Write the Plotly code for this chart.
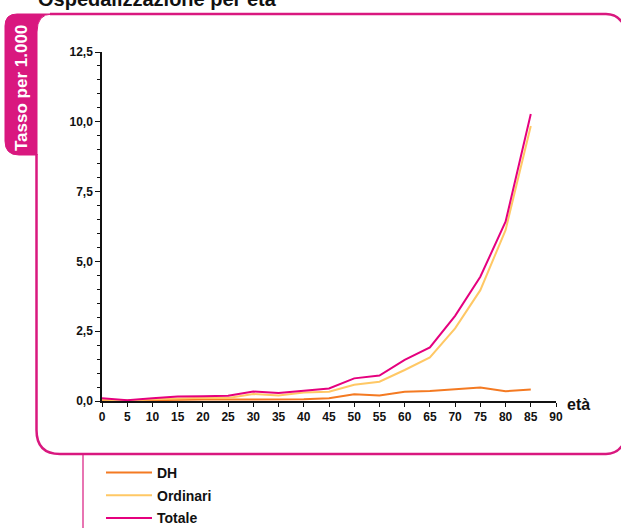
import plotly.graph_objects as go

# ---- data ----
eta = [0, 5, 10, 15, 20, 25, 30, 35, 40, 45, 50, 55, 60, 65, 70, 75, 80, 85]
dh = [0.03, 0.01, 0.03, 0.05, 0.05, 0.05, 0.05, 0.06, 0.06, 0.10, 0.24, 0.20, 0.33, 0.36, 0.43, 0.48, 0.35, 0.41]
ordinari = [0.05, 0.02, 0.06, 0.10, 0.12, 0.11, 0.25, 0.20, 0.30, 0.33, 0.58, 0.69, 1.11, 1.56, 2.60, 3.97, 6.12, 9.85]
totale = [0.10, 0.03, 0.10, 0.16, 0.17, 0.19, 0.34, 0.29, 0.37, 0.45, 0.81, 0.91, 1.47, 1.92, 3.05, 4.45, 6.42, 10.28]
series_names = ["DH", "Ordinari", "Totale"]
y_tickvals = [0, 2.5, 5, 7.5, 10, 12.5]
y_ticktext = ["0,0", "2,5", "5,0", "7,5", "10,0", "12,5"]
x_tickvals = list(range(0, 95, 5))
x_ticktext = [str(v) for v in x_tickvals]

W, H = 621, 528
L, R, T, B = 102, 556, 52, 401  # plot area pixel box
MAG = "#d9187f"
COLS = ["#f47a22", "#ffc865", "#e5007e"]

def px(x):
    return (x - L) / (R - L)

def py(y):
    return (B - y) / (B - T)

def path(cmds):
    out = []
    for c in cmds:
        if isinstance(c, str):
            out.append(c)
        else:
            out.append(f"{px(c[0]):.5f},{py(c[1]):.5f}")
    return " ".join(out)

fig = go.Figure()
for name, vals, col in zip(series_names, [dh, ordinari, totale], COLS):
    fig.add_trace(go.Scatter(x=eta, y=vals, mode="lines", name=name,
                             line=dict(color=col, width=2), legendgroup=name))

tickfont = dict(family="Liberation Sans, Arial", size=12, color="#111", weight="bold")

fig.update_layout(
    width=W, height=H,
    margin=dict(l=L, r=W - R, t=T, b=H - B, autoexpand=False),
    paper_bgcolor="white", plot_bgcolor="white",
    showlegend=True,
    legend=dict(x=px(101), y=py(457), xanchor="left", yanchor="top",
                font=dict(family="Liberation Sans, Arial", size=14, color="#111", weight="bold"),
                tracegroupgap=1.5, traceorder="grouped", bgcolor="rgba(0,0,0,0)",
                itemwidth=46),
    xaxis=dict(range=[0, 90], tickvals=x_tickvals, ticktext=x_ticktext,
               showgrid=False, zeroline=False, showline=True, linecolor="#111", linewidth=1.5,
               ticks="outside", ticklen=4, tickcolor="#111", tickwidth=1.2,
               tickfont=tickfont),
    yaxis=dict(range=[0, 12.5], tickvals=y_tickvals, ticktext=y_ticktext,
               showgrid=False, zeroline=False, showline=True, linecolor="#111", linewidth=1.5,
               ticks="outside", ticklen=5, tickcolor="#111", tickwidth=1.2,
               minor=dict(dtick=0.5, ticks="outside", ticklen=3, tickcolor="#111", tickwidth=1, showgrid=False),
               tickfont=tickfont),
    yaxis2=dict(range=[0, 12.5], overlaying="y", side="left", tickvals=y_tickvals,
                showticklabels=False, showgrid=False, zeroline=False, showline=False,
                ticks="inside", ticklen=5, tickcolor="#111", tickwidth=1.2,
                minor=dict(dtick=0.5, ticks="inside", ticklen=3, tickcolor="#111", tickwidth=1, showgrid=False)),
)

shapes = []
# magenta tab
shapes.append(dict(type="path", xref="paper", yref="paper", layer="above",
                   path=path(["M", (52, 14), "L", (17, 14), "Q", (5, 14), (5, 26), "L", (5, 141),
                              "Q", (5, 155), (19, 155), "L", (37, 155), "L", (37, 32),
                              "Q", (37, 14), (52, 14), "Z"]),
                   fillcolor=MAG, line=dict(color=MAG, width=1)))
# top line
shapes.append(dict(type="path", xref="paper", yref="paper",
                   path=path(["M", (50, 14), "L", (606, 14), "Q", (616, 14), (622, 22)]),
                   line=dict(color=MAG, width=2.5)))
# left + bottom line
shapes.append(dict(type="path", xref="paper", yref="paper",
                   path=path(["M", (36.5, 154), "L", (36.5, 430), "Q", (36.5, 454), (60, 454),
                              "L", (606, 454), "Q", (616, 454), (622, 446)]),
                   line=dict(color=MAG, width=2.5)))
# legend box vertical line
shapes.append(dict(type="line", xref="paper", yref="paper",
                   x0=px(83), x1=px(83), y0=py(454), y1=py(530),
                   line=dict(color=MAG, width=1.2)))
fig.update_layout(shapes=shapes)

fig.add_annotation(text="<b>Ospedalizzazione per età</b>", xref="paper", yref="paper",
                   x=px(36), y=py(12), xanchor="left", yanchor="bottom", showarrow=False,
                   font=dict(family="Liberation Sans, Arial", size=20, color="#111"))
fig.add_annotation(text="<b>Tasso per 1.000</b>", xref="paper", yref="paper",
                   x=px(21), y=py(88), textangle=-90, showarrow=False,
                   xanchor="center", yanchor="middle",
                   font=dict(family="Liberation Sans, Arial", size=17, color="white"))
fig.add_annotation(text="<b>età</b>", xref="paper", yref="paper",
                   x=px(578), y=py(404), showarrow=False, xanchor="center", yanchor="middle",
                   font=dict(family="Liberation Sans, Arial", size=16, color="#111"))

fig.write_html("out.html", config={"displayModeBar": False},
               post_script="document.body.style.margin='0';document.body.style.overflow='hidden';")
